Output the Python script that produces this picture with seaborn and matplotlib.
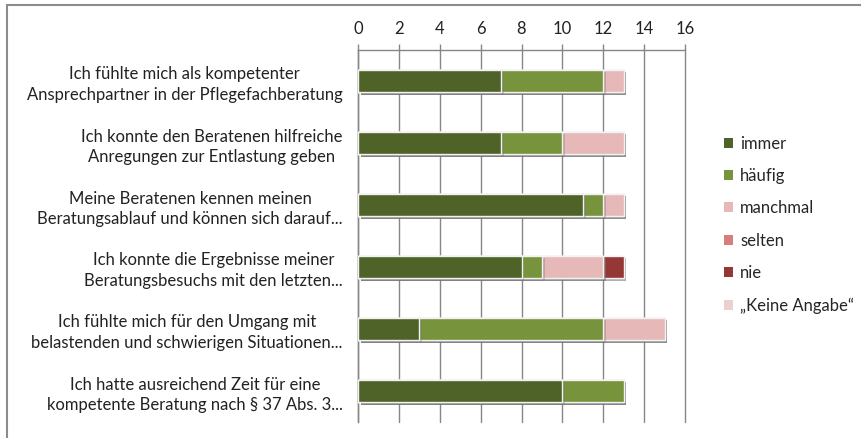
import matplotlib
matplotlib.use("Agg")
import matplotlib.pyplot as plt
import matplotlib.patheffects as pe
from matplotlib.patches import Patch
from matplotlib.lines import Line2D
import seaborn as sns
import pandas as pd
import numpy as np

categories = [
    "Ich fühlte mich als kompetenter\nAnsprechpartner in der Pflegefachberatung",
    "Ich konnte den Beratenen hilfreiche\nAnregungen zur Entlastung geben",
    "Meine Beratenen kennen meinen\nBeratungsablauf und können sich darauf...",
    "Ich konnte die Ergebnisse meiner\nBeratungsbesuchs mit den letzten...",
    "Ich fühlte mich für den Umgang mit\nbelastenden und schwierigen Situationen...",
    "Ich hatte ausreichend Zeit für eine\nkompetente Beratung nach § 37 Abs. 3...",
]
series_names = ["immer", "häufig", "manchmal", "selten", "nie", "„Keine Angabe“"]
immer = [7, 7, 11, 8, 3, 10]
haeufig = [5, 3, 1, 1, 9, 3]
manchmal = [1, 3, 1, 3, 3, 0]
selten = [0, 0, 0, 0, 0, 0]
nie = [0, 0, 0, 1, 0, 0]
keine_angabe = [0, 0, 0, 0, 0, 0]
colors = ["#4F6228", "#77933C", "#E6B9B8", "#D47F7D", "#953735", "#EECFCF"]
x_ticks = [0, 2, 4, 6, 8, 10, 12, 14, 16]

series_values = [immer, haeufig, manchmal, selten, nie, keine_angabe]

sns.set_theme(style="white")
plt.rcParams["font.family"] = ["Lato", "DejaVu Sans"]
FS = 12

fig = plt.figure(figsize=(8.61, 4.38), dpi=100)
ax = fig.add_axes([358 / 861, 1 - 422 / 438, (685 - 358) / 861, (422 - 50) / 438])

cum = np.cumsum(np.array(series_values, dtype=float), axis=0)
shadow = [pe.SimplePatchShadow(offset=(2, -2), alpha=0.35, shadow_rgbFace="#777777"), pe.Normal()]
for i in range(len(series_names) - 1, -1, -1):
    df = pd.DataFrame({"cat": categories, "val": cum[i]})
    sns.barplot(data=df, y="cat", x="val", orient="h", color=colors[i],
                saturation=1, width=0.37, edgecolor="#F2F2F2", linewidth=1.0,
                ax=ax, zorder=3)
for p in ax.patches:
    if p.get_width() > 0:
        p.set_path_effects(shadow)
    else:
        p.set_visible(False)

ax.set_xlim(0, 16)
ax.set_ylim(5.5, -0.5)
ax.set_xlabel("")
ax.set_ylabel("")
ax.xaxis.tick_top()
ax.set_xticks(x_ticks)
ax.set_xticklabels([str(t) for t in x_ticks], fontsize=FS, color="#222222")
ax.tick_params(axis="x", which="major", length=4, width=1, color="#868686",
               direction="out", pad=5)
ax.grid(axis="x", color="#868686", linewidth=1.0, zorder=0)
for gl in ax.get_xgridlines():
    gl.set_clip_on(False)
ax.set_axisbelow(True)

ax.set_yticks(range(len(categories)))
ax.set_yticklabels(categories, fontsize=FS, color="#222222",
                   multialignment="center", linespacing=1.35)
ax.tick_params(axis="y", which="major", length=0, pad=11)
ax.set_yticks(np.arange(-0.5, 6.0, 1.0), minor=True)
ax.tick_params(axis="y", which="minor", length=5, width=1, color="#868686",
               direction="out")

for s in ["right", "bottom"]:
    ax.spines[s].set_visible(False)
for s in ["top", "left"]:
    ax.spines[s].set_color("#868686")
    ax.spines[s].set_linewidth(1.0)

handles = [Patch(facecolor=c, edgecolor="none") for c in colors]
fig.legend(handles, series_names, loc="upper left",
           bbox_to_anchor=(717 / 861, 1 - 129 / 438), frameon=False,
           fontsize=FS, handlelength=0.55, handleheight=0.55,
           handletextpad=0.45, labelspacing=0.98, borderaxespad=0)

fig.add_artist(Line2D([7 / 861, 1.0], [1 - 5 / 438, 1 - 5 / 438],
                      transform=fig.transFigure, color="#8C8C8C", linewidth=1.5))
fig.add_artist(Line2D([7 / 861, 7 / 861], [0, 1 - 5 / 438],
                      transform=fig.transFigure, color="#8C8C8C", linewidth=1.5))

fig.savefig("out.png", dpi=100, facecolor="white")
